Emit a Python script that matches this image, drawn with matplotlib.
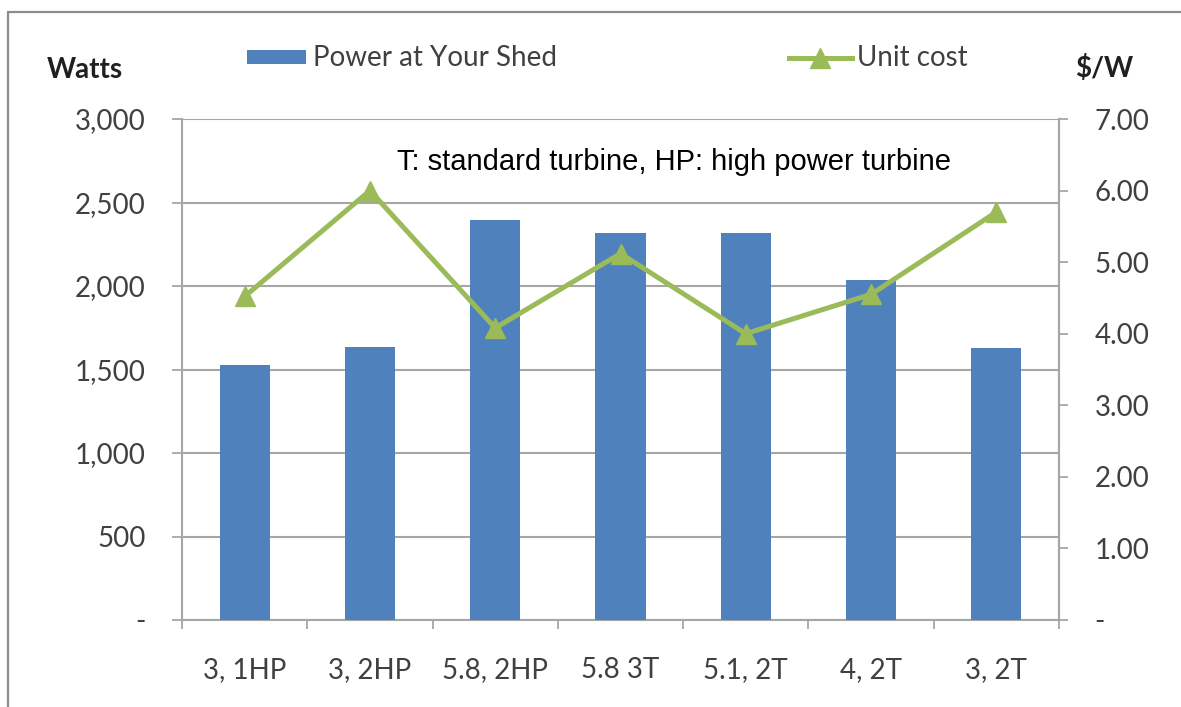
import matplotlib
matplotlib.use("Agg")
import matplotlib.pyplot as plt
from matplotlib.patches import Rectangle
from matplotlib.lines import Line2D
from matplotlib.ticker import FuncFormatter
import numpy as np

categories = ["3, 1HP", "3, 2HP", "5.8, 2HP", "5.8 3T", "5.1, 2T", "4, 2T", "3, 2T"]
power_watts = [1528, 1632, 2394, 2320, 2320, 2035, 1630]
unit_cost = [4.52, 6.0, 4.08, 5.12, 4.0, 4.55, 5.70]
left_ticks = [0, 500, 1000, 1500, 2000, 2500, 3000]
right_ticks = [0, 1, 2, 3, 4, 5, 6, 7]

W, H = 1181, 707
fig = plt.figure(figsize=(W / 100, H / 100), dpi=100)
fig.patch.set_facecolor("white")

FONT = "Lato"
FS = 20
BLUE = "#4F81BD"
GREEN = "#9BBB59"
GRID = "#A6A6A6"
TXT = "#404040"

# outer border
fig.patches.append(Rectangle((8 / W, -0.05), 1.1, 1 - 12 / H + 0.05, transform=fig.transFigure,
                             fill=False, edgecolor="#8C8C8C", linewidth=1.6))

x0, x1 = 182, 1059
y0, y1 = 119, 620
ax = fig.add_axes([x0 / W, 1 - y1 / H, (x1 - x0) / W, (y1 - y0) / H])
x = np.arange(len(categories))
ax.bar(x, power_watts, width=0.40, color=BLUE, zorder=3)
ax.set_xlim(-0.5, len(categories) - 0.5)
ax.set_ylim(0, 3000)
ax.set_yticks(left_ticks)
ax.yaxis.set_major_formatter(FuncFormatter(lambda v, p: "-" if v == 0 else f"{int(v):,}"))
ax.grid(axis="y", color=GRID, linewidth=1.5, zorder=0)
ax.set_axisbelow(True)
ax.spines["top"].set_visible(False)
for s in ["left", "right", "bottom"]:
    ax.spines[s].set_color(GRID)
    ax.spines[s].set_linewidth(1.5)
ax.set_xticks(np.arange(-0.5, len(categories), 1.0))
ax.set_xticklabels([])
ax.set_xticks(x, minor=True)
ax.set_xticklabels(categories, minor=True)
ax.tick_params(axis="x", which="major", length=6.5, width=1.3, color=GRID, direction="out")
ax.tick_params(axis="x", which="minor", length=0, pad=27, labelsize=FS, labelcolor=TXT)
ax.tick_params(axis="y", length=7.2, width=1.3, color=GRID, pad=19, labelsize=FS, labelcolor=TXT)
for lab in ax.get_xticklabels(minor=True) + ax.get_yticklabels():
    lab.set_fontfamily(FONT)

ax2 = ax.twinx()
ax2.plot(x, unit_cost, color=GREEN, linewidth=3.6, marker="^", markersize=15, zorder=4)
ax2.set_ylim(0, 7)
ax2.set_yticks(right_ticks)
ax2.yaxis.set_major_formatter(FuncFormatter(lambda v, p: "-" if v == 0 else f"{v:.2f}"))
ax2.tick_params(axis="y", length=6.5, width=1.3, color=GRID, pad=19, labelsize=FS, labelcolor=TXT)
for lab in ax2.get_yticklabels():
    lab.set_fontfamily(FONT)
for s in ["top", "left", "bottom"]:
    ax2.spines[s].set_visible(False)
ax2.spines["right"].set_color(GRID)
ax2.spines["right"].set_linewidth(1.5)

fig.text(397 / W, 1 - 170 / H, "T: standard turbine, HP: high power turbine",
         ha="left", va="baseline", fontsize=21, family="Liberation Sans", color="black", zorder=6)

# axis titles
fig.text(47 / W, 1 - 78 / H, "Watts", ha="left", va="baseline", fontsize=FS, fontweight="bold",
         family=FONT, color="#202020")
fig.text(1075 / W, 1 - 77 / H, "$/W", ha="left", va="baseline", fontsize=FS, fontweight="bold",
         family=FONT, color="#202020")

# legend
fig.patches.append(Rectangle((247 / W, 1 - 64 / H), 59 / W, 14 / H, transform=fig.transFigure,
                             facecolor=BLUE, edgecolor="none"))
fig.text(313 / W, 1 - 66 / H, "Power at Your Shed", ha="left", va="baseline", fontsize=FS,
         family=FONT, color=TXT)
fig.lines.append(Line2D([789 / W, 852 / W], [1 - 58 / H, 1 - 58 / H], transform=fig.transFigure,
                        color=GREEN, linewidth=3.6))
fig.lines.append(Line2D([820 / W], [1 - 58 / H], transform=fig.transFigure, color=GREEN,
                        marker="^", markersize=14, linestyle="none"))
fig.text(857 / W, 1 - 66 / H, "Unit cost", ha="left", va="baseline", fontsize=FS,
         family=FONT, color=TXT)

fig.savefig("out.png", dpi=100, facecolor="white")
